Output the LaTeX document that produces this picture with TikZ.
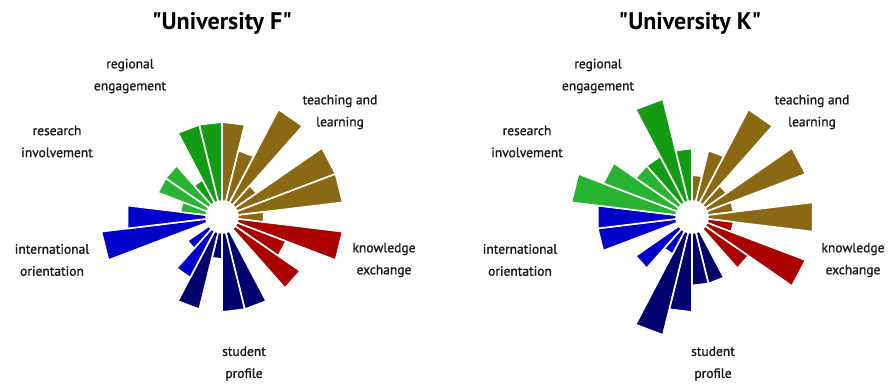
\documentclass[tikz,border=0pt]{standalone}
\usepackage{fontspec}
\setmainfont{PT Sans}
\newfontfamily\labelfont[FakeBold=1.2]{PT Sans}
\usepackage{xcolor}
\usetikzlibrary{positioning, calc}
\definecolor{teachcol}{HTML}{8B6914}
\definecolor{exchcol}{HTML}{AA0000}
\definecolor{studcol}{HTML}{00006E}
\definecolor{intcol}{HTML}{0000C8}
\definecolor{rescol}{HTML}{28B432}
\definecolor{regcol}{HTML}{149B14}
\definecolor{txtcol}{HTML}{1A1A1A}
\tikzset{
    title/.style={
        font=\fontsize{24}{28}\selectfont\bfseries,
        text=black
    },
    dimlabel/.style={
        align=center,
        text=txtcol,
        inner sep=0pt,
        font=\labelfont\fontsize{13.5}{22}\selectfont
    },
    wedge/.style={
        draw=white,
        line width=1.6pt,
        line join=round
    }
}

\begin{document}
\begin{tikzpicture}[x=1pt, y=1pt]

\fill[white] (0,0) rectangle (890,387);
\useasboundingbox (0,0) rectangle (890,387);

% Chart centres
\coordinate (cF) at (222,170);
\coordinate (cK) at (692,170);

% Titles
\node[title] (titleF) at (222,364) {\textquotedbl University F\textquotedbl};
\node[title] (titleK) at (690,364) {\textquotedbl University K\textquotedbl};

% University F wedges (slot/level/colour)
\begin{scope}[shift={(cF)}]
\foreach \k/\lv/\col in {0/3/teachcol, 1/2/teachcol, 2/4/teachcol, 3/1/teachcol, 4/4/teachcol, 5/4/teachcol, 6/1/teachcol,
    7/4/exchcol, 8/2/exchcol, 9/3/exchcol,
    11/3/studcol, 12/3/studcol, 13/1/studcol, 14/3/studcol,
    15/2/intcol, 16/1/intcol, 18/4/intcol, 19/3/intcol,
    20/1/rescol, 21/2/rescol, 22/2/rescol,
    23/1/regcol, 24/3/regcol, 25/3/regcol} {
    \pgfmathsetmacro\a{90-13.846*(\k+0.5)}
    \pgfmathsetmacro\r{15.5+26.5*\lv}
    \draw[wedge, fill=\col] (\a-6.92:16) -- (\a-6.92:\r) -- (\a+6.92:\r) -- (\a+6.92:16) -- cycle;
}
\end{scope}

% University K wedges
\begin{scope}[shift={(cK)}]
\foreach \k/\lv/\col in {0/1/teachcol, 1/2/teachcol, 2/4/teachcol, 3/1/teachcol, 4/4/teachcol, 5/1/teachcol, 6/4/teachcol,
    7/1/exchcol, 8/4/exchcol, 9/2/exchcol,
    11/2/studcol, 12/2/studcol, 13/3/studcol, 14/4/studcol,
    15/1/intcol, 16/2/intcol, 18/3/intcol, 19/3/intcol,
    20/4/rescol, 21/3/rescol, 22/2/rescol,
    23/2/regcol, 24/4/regcol, 25/2/regcol} {
    \pgfmathsetmacro\a{90-13.846*(\k+0.5)}
    \pgfmathsetmacro\r{15.5+26.5*\lv}
    \draw[wedge, fill=\col] (\a-6.92:16) -- (\a-6.92:\r) -- (\a+6.92:\r) -- (\a+6.92:16) -- cycle;
}
\end{scope}

% Dimension labels - University F
\node[dimlabel] (regF) at (130,311) {regional\\engagement};
\node[dimlabel] (teachF) at (340,275) {teaching and\\learning};
\node[dimlabel] (resF) at (57,245.5) {research\\involvement};
\node[dimlabel] (intF) at (52,127) {international\\orientation};
\node[dimlabel] (exchF) at (384,127) {knowledge\\exchange};
\node[dimlabel] (studF) at (244,23.5) {student\\profile};

% Dimension labels - University K
\node[dimlabel] (regK) at (598,311) {regional\\engagement};
\node[dimlabel] (teachK) at (812,275) {teaching and\\learning};
\node[dimlabel] (resK) at (527,245.5) {research\\involvement};
\node[dimlabel] (intK) at (520,127) {international\\orientation};
\node[dimlabel] (exchK) at (853,127) {knowledge\\exchange};
\node[dimlabel] (studK) at (713,23.5) {student\\profile};

\end{tikzpicture}
\end{document}
